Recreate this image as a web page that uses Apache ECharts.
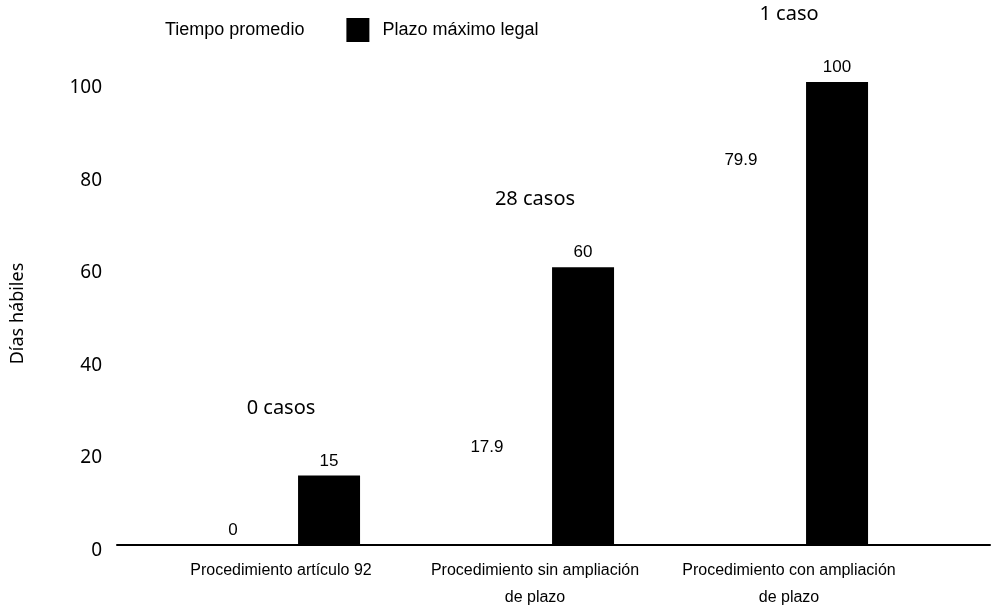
<!DOCTYPE html>
<html><head><meta charset="utf-8">
<script src="https://cdn.jsdelivr.net/npm/echarts@6/dist/echarts.min.js"></script>
<style>html,body{margin:0;padding:0;background:#fff}#c{width:997px;height:605px}</style>
</head><body><div id="c"></div>
<script>
var categories = ['Procedimiento artículo 92', 'Procedimiento sin ampliación\nde plazo', 'Procedimiento con ampliación\nde plazo'];
var tiempoPromedio = [0, 17.9, 79.9];
var plazoMaximo = [15, 60, 100];
var casosLabels = ['0 casos', '28 casos', '1 caso'];
var yTicks = [0, 20, 40, 60, 80, 100];
var seriesNames = ['Tiempo promedio', 'Plazo máximo legal'];

var narrow = "'Liberation Sans', Arial, sans-serif";
var sans = "'Noto Sans', 'Open Sans', sans-serif";
var casosY = categories.map(function (c, i) { return Math.max(tiempoPromedio[i], plazoMaximo[i]); });

var chart = echarts.init(document.getElementById('c'));
chart.setOption({
  animation: false,
  backgroundColor: '#fff',
  legend: {
    data: seriesNames,
    left: 124, top: 13,
    itemWidth: 23, itemHeight: 24, itemGap: 42,
    icon: 'rect',
    textStyle: { fontFamily: narrow, fontSize: 18, color: '#000', padding: [0, 0, 0, 8] }
  },
  grid: [
    { left: 154, right: 81, top: 82, bottom: 60, outerBoundsMode: 'none', containLabel: false },
    { left: 117, right: 7, top: 82, bottom: 60, outerBoundsMode: 'none', containLabel: false }
  ],
  xAxis: [
    {
      type: 'category', gridIndex: 0, data: categories,
      axisLine: { show: false }, axisTick: { show: false },
      axisLabel: { margin: 12, fontFamily: narrow, fontSize: 16, color: '#000', lineHeight: 27, interval: 0 }
    },
    {
      type: 'value', gridIndex: 1, min: 0, max: 1, z: 10,
      axisLine: { show: true, lineStyle: { color: '#000', width: 2 } },
      axisTick: { show: false }, axisLabel: { show: false }, splitLine: { show: false }
    }
  ],
  yAxis: [
    {
      type: 'value', gridIndex: 0, min: yTicks[0], max: yTicks[yTicks.length - 1], interval: 20,
      name: 'Días hábiles', nameLocation: 'middle', nameGap: 127,
      nameTextStyle: { fontFamily: sans, fontSize: 18, color: '#000' },
      axisLine: { show: false }, axisTick: { show: false }, splitLine: { show: false },
      axisLabel: { margin: 52, fontFamily: sans, fontSize: 19, color: '#000', verticalAlign: 'top', padding: [-4, 0, 0, 0] }
    },
    { type: 'value', gridIndex: 1, show: false, min: 0, max: 1 }
  ],
  series: [
    {
      name: seriesNames[0], type: 'bar', xAxisIndex: 0, yAxisIndex: 0,
      data: tiempoPromedio, barWidth: 62, barGap: '55%',
      itemStyle: { color: 'rgba(255,255,255,0)' },
      label: { show: true, position: 'top', distance: 6, fontFamily: narrow, fontSize: 17, color: '#000' }
    },
    {
      name: seriesNames[1], type: 'bar', xAxisIndex: 0, yAxisIndex: 0,
      data: plazoMaximo, barWidth: 62,
      itemStyle: { color: '#000000' },
      label: { show: true, position: 'top', distance: 6, fontFamily: narrow, fontSize: 17, color: '#000' }
    },
    {
      name: 'casos', type: 'scatter', xAxisIndex: 0, yAxisIndex: 0,
      data: casosY, symbolSize: 1, itemStyle: { color: '#ffffff' },
      emphasis: { disabled: true },
      label: {
        show: true, position: 'top', distance: 57, opacity: 1,
        fontFamily: sans, fontSize: 20, color: '#000000',
        formatter: function (p) { return casosLabels[p.dataIndex]; }
      }
    }
  ]
});
</script></body></html>
